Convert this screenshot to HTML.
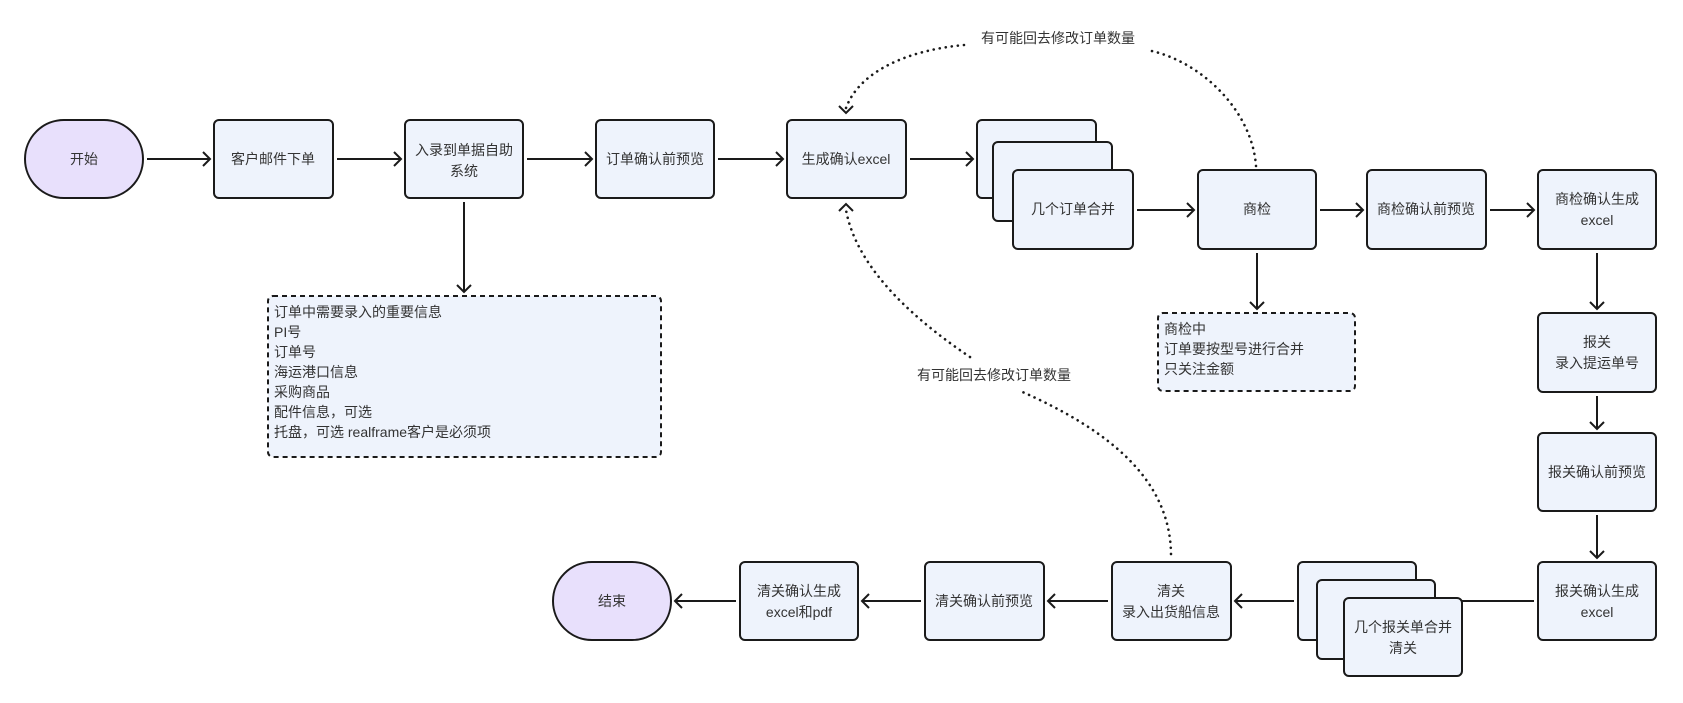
<!DOCTYPE html>
<html><head><meta charset="utf-8"><style>
body{margin:0;background:#fff}
svg{display:block}
text{font-family:"Liberation Sans","Noto Sans CJK SC",sans-serif;font-size:14px;fill:#333}
.b{fill:#eef3fc;stroke:#1a1a1a;stroke-width:2}
.o{fill:#e8e0fc;stroke:#1a1a1a;stroke-width:2}
.n{fill:#eef3fc;stroke:#1a1a1a;stroke-width:2;stroke-dasharray:5 4}
.l{stroke:#1a1a1a;stroke-width:2;fill:none}
.d{stroke:#1a1a1a;stroke-width:2.6;fill:none;stroke-dasharray:0.1 6;stroke-linecap:round}
.a{stroke:#1a1a1a;stroke-width:2;fill:none}
</style></head><body>
<svg width="1683" height="703" viewBox="0 0 1683 703">
<rect class="o" x="25" y="120" width="118" height="78" rx="39"/>
<text x="84" y="164" text-anchor="middle">开始</text>
<rect class="b" x="214" y="120" width="119" height="78" rx="5"/>
<text x="273" y="164" text-anchor="middle">客户邮件下单</text>
<rect class="b" x="405" y="120" width="118" height="78" rx="5"/>
<text x="464" y="155" text-anchor="middle">入录到单据自助</text>
<text x="464" y="176" text-anchor="middle">系统</text>
<rect class="b" x="596" y="120" width="118" height="78" rx="5"/>
<text x="655" y="164" text-anchor="middle">订单确认前预览</text>
<rect class="b" x="787" y="120" width="119" height="78" rx="5"/>
<text x="846" y="164" text-anchor="middle">生成确认excel</text>
<rect class="b" x="977" y="120" width="119" height="78" rx="5"/>
<rect class="b" x="993" y="142" width="119" height="79" rx="5"/>
<rect class="b" x="1013" y="170" width="120" height="79" rx="5"/>
<text x="1073" y="214" text-anchor="middle">几个订单合并</text>
<rect class="b" x="1198" y="170" width="118" height="79" rx="5"/>
<text x="1257" y="214" text-anchor="middle">商检</text>
<rect class="b" x="1367" y="170" width="119" height="79" rx="5"/>
<text x="1426" y="214" text-anchor="middle">商检确认前预览</text>
<rect class="b" x="1538" y="170" width="118" height="79" rx="5"/>
<text x="1597" y="204" text-anchor="middle">商检确认生成</text>
<text x="1597" y="225" text-anchor="middle">excel</text>
<path class="l" d="M147 159H210M203 152l7 7-7 7"/>
<path class="l" d="M337 159H401M394 152l7 7-7 7"/>
<path class="l" d="M527 159H592M585 152l7 7-7 7"/>
<path class="l" d="M718 159H783M776 152l7 7-7 7"/>
<path class="l" d="M910 159H973M966 152l7 7-7 7"/>
<path class="l" d="M1137 210H1194M1187 203l7 7-7 7"/>
<path class="l" d="M1320 210H1363M1356 203l7 7-7 7"/>
<path class="l" d="M1490 210H1534M1527 203l7 7-7 7"/>
<path class="l" d="M464 202V292M457 285l7 7 7-7"/>
<path class="l" d="M1257 253V309M1250 302l7 7 7-7"/>
<rect class="n" x="268" y="296" width="393" height="161" rx="5"/>
<text x="274" y="317">订单中需要录入的重要信息</text>
<text x="274" y="337">PI号</text>
<text x="274" y="357">订单号</text>
<text x="274" y="377">海运港口信息</text>
<text x="274" y="397">采购商品</text>
<text x="274" y="417">配件信息，可选</text>
<text x="274" y="437">托盘，可选 realframe客户是必须项</text>
<rect class="n" x="1158" y="313" width="197" height="78" rx="5"/>
<text x="1164" y="334">商检中</text>
<text x="1164" y="354">订单要按型号进行合并</text>
<text x="1164" y="374">只关注金额</text>
<rect class="b" x="1538" y="313" width="118" height="79" rx="5"/>
<text x="1597" y="347" text-anchor="middle">报关</text>
<text x="1597" y="368" text-anchor="middle">录入提运单号</text>
<path class="l" d="M1597 253V309M1590 302l7 7 7-7"/>
<rect class="b" x="1538" y="433" width="118" height="78" rx="5"/>
<text x="1597" y="477" text-anchor="middle">报关确认前预览</text>
<path class="l" d="M1597 396V429M1590 422l7 7 7-7"/>
<rect class="b" x="1538" y="562" width="118" height="78" rx="5"/>
<text x="1597" y="596" text-anchor="middle">报关确认生成</text>
<text x="1597" y="617" text-anchor="middle">excel</text>
<path class="l" d="M1597 515V558M1590 551l7 7 7-7"/>
<rect class="b" x="1298" y="562" width="118" height="78" rx="5"/>
<rect class="b" x="1317" y="580" width="118" height="79" rx="5"/>
<rect class="b" x="1344" y="598" width="118" height="78" rx="5"/>
<text x="1403" y="632" text-anchor="middle">几个报关单合并</text>
<text x="1403" y="653" text-anchor="middle">清关</text>
<path class="l" d="M1534 601H1462"/>
<path class="l" d="M1294 601H1235M1242 594l-7 7 7 7"/>
<rect class="b" x="1112" y="562" width="119" height="78" rx="5"/>
<text x="1171" y="596" text-anchor="middle">清关</text>
<text x="1171" y="617" text-anchor="middle">录入出货船信息</text>
<path class="l" d="M1108 601H1048M1055 594l-7 7 7 7"/>
<rect class="b" x="925" y="562" width="119" height="78" rx="5"/>
<text x="984" y="606" text-anchor="middle">清关确认前预览</text>
<path class="l" d="M921 601H862M869 594l-7 7 7 7"/>
<rect class="b" x="740" y="562" width="118" height="78" rx="5"/>
<text x="799" y="596" text-anchor="middle">清关确认生成</text>
<text x="799" y="617" text-anchor="middle">excel和pdf</text>
<path class="l" d="M736 601H675M682 594l-7 7 7 7"/>
<rect class="o" x="553" y="562" width="118" height="78" rx="39"/>
<text x="612" y="606" text-anchor="middle">结束</text>
<path class="d" d="M1256 166C1252 110 1200 60 1147 50"/>
<path class="d" d="M964 45C910 50 860 70 846 108"/>
<path class="a" d="M839 106l7 7 7-7"/>
<text x="1058" y="43" text-anchor="middle">有可能回去修改订单数量</text>
<path class="d" d="M1171 554C1170 480 1110 430 1018 390"/>
<path class="d" d="M970 357C900 310 855 260 846 210"/>
<path class="a" d="M839 211l7-7 7 7"/>
<text x="994" y="380" text-anchor="middle">有可能回去修改订单数量</text>
</svg>
</body></html>
